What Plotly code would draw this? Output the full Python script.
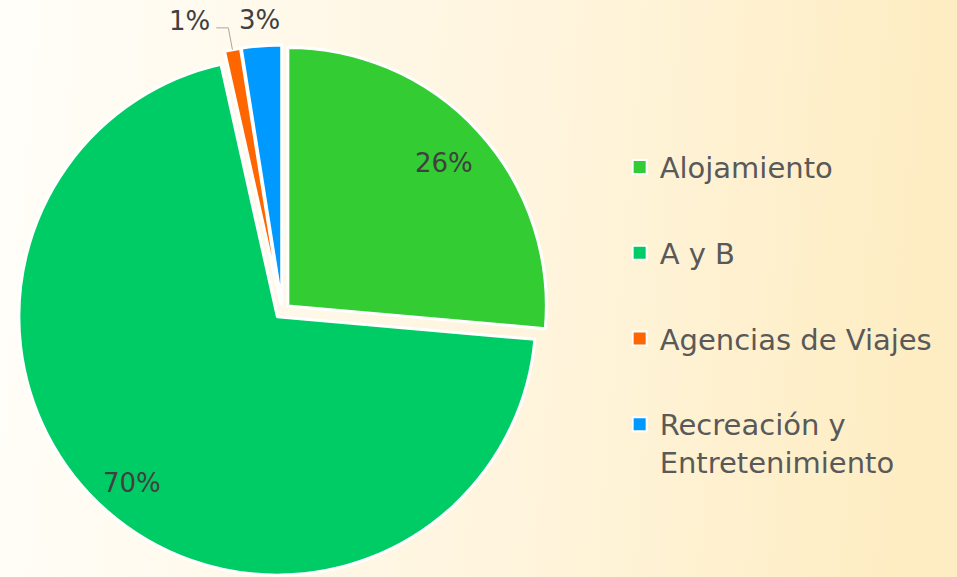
import base64
import math

import plotly.graph_objects as go

categories = ['Alojamiento', 'A y B', 'Agencias de Viajes', 'Recreación y Entretenimiento']
legend_labels = ['Alojamiento', 'A y B', 'Agencias de Viajes', 'Recreación y<br>Entretenimiento']
shares = [26.4, 70.1, 1.0, 2.5]
colors = ['#33CC33', '#00CC66', '#FF6600', '#0099FF']
label_styles = ['inside', 'inside', 'leader', 'outside']
label_radius = [0.85, 0.885, 1.115, 1.13]   # fraction of r, from the pie centre

W, H = 957, 577
FONT = 'DejaVu Sans'
TEXT_COLOR = '#595959'
LABEL_COLOR = '#404040'
PULL = 0.029
DOM_X = [0, 0.59]
DOM_Y = [0, 0.922]

# soft white -> cream gradient behind everything
svg = ("<svg xmlns='http://www.w3.org/2000/svg' width='957' height='577'>"
       "<defs><linearGradient id='g' x1='0' y1='0' x2='1' y2='0.05'>"
       "<stop offset='0' stop-color='#FFFEF9'/>"
       "<stop offset='0.6' stop-color='#FFF4DC'/>"
       "<stop offset='1' stop-color='#FEEDC2'/>"
       "</linearGradient></defs>"
       "<rect width='957' height='577' fill='url(#g)'/></svg>")
bg_src = 'data:image/svg+xml;base64,' + base64.b64encode(svg.encode()).decode()

fig = go.Figure()

fig.add_trace(go.Pie(
    labels=categories,
    values=shares,
    sort=False,
    direction='clockwise',
    rotation=0,
    pull=[PULL] * len(shares),
    marker=dict(colors=colors, line=dict(color='white', width=3)),
    textinfo='none',
    domain=dict(x=DOM_X, y=DOM_Y),
    showlegend=False,
    hoverinfo='label+percent',
))

# legend entries (one group each so the spacing can be opened up)
for name, label, color in zip(categories, legend_labels, colors):
    fig.add_trace(go.Scatter(
        x=[None], y=[None],
        mode='markers',
        name=label,
        legendgroup=name,
        marker=dict(symbol='square', size=14, color=color,
                    line=dict(color='white', width=2)),
        hoverinfo='skip',
    ))

# percentage labels placed along each slice's bisector (same geometry as the pie)
cx = W * (DOM_X[0] + DOM_X[1]) / 2
cy = H * (1 - (DOM_Y[0] + DOM_Y[1]) / 2)
r = min(W * (DOM_X[1] - DOM_X[0]), H * (DOM_Y[1] - DOM_Y[0])) / 2 / (1 + PULL)
total = sum(shares)


def px(x, y):
    return x / W, 1 - y / H


annotations = []
shapes = []
cum = 0
for v, style, frac in zip(shares, label_styles, label_radius):
    theta = 2 * math.pi * (cum + v / 2) / total
    cum += v
    dx, dy = math.sin(theta), -math.cos(theta)
    text = f'{math.floor(100 * v / total + 0.5)}%'
    if style == 'leader':
        d0, d1 = r * (1 + PULL), r * frac
        x0, y0 = cx + d0 * dx, cy + d0 * dy
        x1, y1 = cx + d1 * dx, cy + d1 * dy
        x2 = x1 - 12
        pts = [px(x0, y0), px(x1, y1), px(x2, y1)]
        shapes.append(dict(
            type='path', xref='paper', yref='paper',
            path='M ' + ' L '.join(f'{a:.4f},{b:.4f}' for a, b in pts),
            line=dict(color='#A6A6A6', width=1),
        ))
        x, y = px(x2 - 4, y1 - 7)
        annotations.append(dict(x=x, y=y, text=text, xanchor='right'))
    else:
        d = r * frac
        x, y = px(cx + d * dx, cy + d * dy)
        annotations.append(dict(x=x, y=y, text=text))

for a in annotations:
    a.setdefault('xanchor', 'center')
    a.update(xref='paper', yref='paper', yanchor='middle', showarrow=False,
             font=dict(family=FONT, size=26, color=LABEL_COLOR))

fig.update_layout(
    width=W,
    height=H,
    margin=dict(l=0, r=0, t=0, b=0, autoexpand=False),
    paper_bgcolor='white',
    plot_bgcolor='rgba(0,0,0,0)',
    font=dict(family=FONT, color=TEXT_COLOR),
    images=[dict(source=bg_src, xref='paper', yref='paper', x=0, y=1,
                 sizex=1, sizey=1, sizing='stretch', layer='below')],
    annotations=annotations,
    shapes=shapes,
    legend=dict(
        x=0.6475, xanchor='left',
        y=0.7544, yanchor='top',
        valign='top',
        tracegroupgap=45,
        font=dict(family=FONT, size=29, color=TEXT_COLOR),
        bgcolor='rgba(0,0,0,0)',
    ),
)
fig.update_xaxes(visible=False)
fig.update_yaxes(visible=False)

# drop the page's default body margin so the figure sits flush in the window
fig.write_html("out.html", config={'displayModeBar': False},
               post_script="document.body.style.margin = '0';")
